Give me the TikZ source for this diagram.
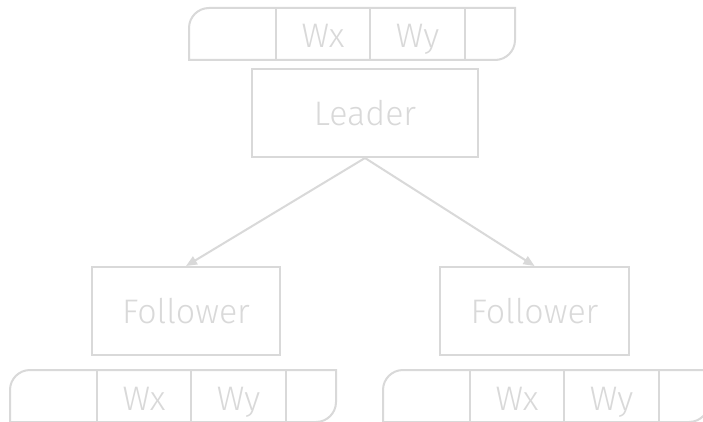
\documentclass[tikz,border=0pt]{standalone}
\usepackage{fontspec}
\setmainfont{Fira Sans}[UprightFont=* Light]
\usetikzlibrary{arrows.meta}
\definecolor{ink}{HTML}{D9D9D9}
\tikzset{
  line/.style={draw=ink, line width=2pt},
  label font/.style={text=ink, font=\fontsize{34}{40}\selectfont},
  box/.style={line, label font, rectangle, minimum width=#1, minimum height=88pt, inner sep=0pt},
  cell/.style={label font, inner sep=0pt, anchor=base},
  link/.style={line, -{Triangle[length=11pt,width=9pt]}},
  wbar/.pic={
    % outline with two rounded corners (top left, bottom right)
    \draw[line] (0,0) -- (0,32) arc[start angle=180,end angle=90,radius=20]
      -- (326,52) -- (326,20) arc[start angle=0,end angle=-90,radius=20] -- cycle;
    \draw[line] (87,0) -- (87,52) (181,0) -- (181,52) (276,0) -- (276,52);
    \node[cell] (-wx) at (134,12) {Wx};
    \node[cell] (-wy) at (228.5,12) {Wy};
  }
}
\newcommand{\lowered}[1]{\raisebox{-3pt}{#1}}
\begin{document}
\begin{tikzpicture}[x=1pt,y=1pt]
  \useasboundingbox (0,0) rectangle (703,421);
  \fill[white] (0,0) rectangle (703,421);
  \clip (0,0) rectangle (703,421);
  % parameter bars
  \pic (top) at (189,361) {wbar};
  \pic (botl) at (10,-1) {wbar};
  \pic (botr) at (383,-1) {wbar};
  % nodes
  \node[box=226pt] (leader) at (365,308) {\lowered{Leader}};
  \node[box=188pt] (fl) at (186,110) {\lowered{Follower}};
  \node[box=189pt] (fr) at (534.5,110) {\lowered{Follower}};
  % connectors
  \draw[link] (leader.south) -- (fl.north);
  \draw[link] (leader.south) -- (fr.north);
\end{tikzpicture}
\end{document}
